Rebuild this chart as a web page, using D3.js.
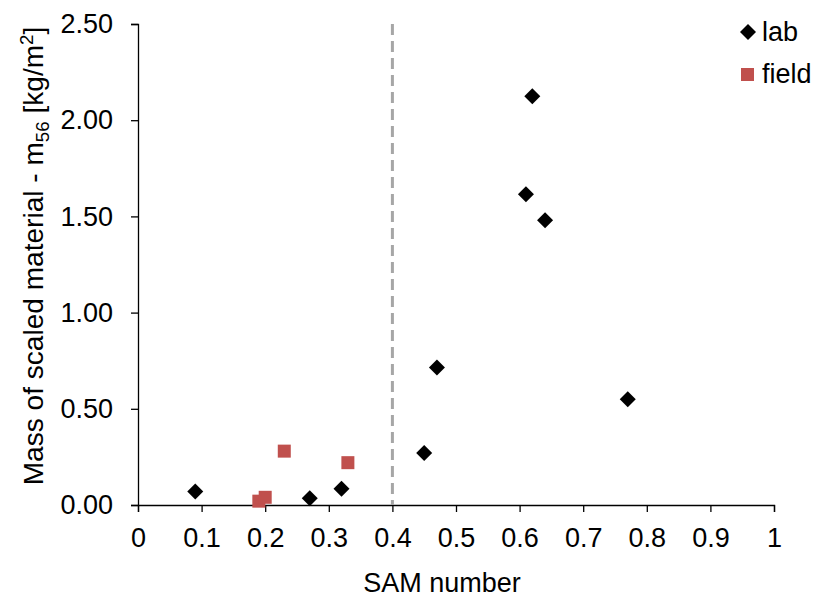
<!DOCTYPE html>
<html><head><meta charset="utf-8">
<script src="https://cdn.jsdelivr.net/npm/d3@7"></script>
<style>body{margin:0;background:#fff}svg{display:block}text{font-family:"Liberation Sans",Arial,sans-serif}</style>
</head><body>
<svg id="c" width="825" height="600"></svg>
<script>
const labX = [0.09, 0.27, 0.32, 0.45, 0.47, 0.61, 0.62, 0.64, 0.77];
const labY = [0.07, 0.035, 0.085, 0.27, 0.715, 1.615, 2.125, 1.48, 0.55];
const fieldX = [0.19, 0.20, 0.23, 0.33];
const fieldY = [0.02, 0.04, 0.28, 0.22];
const xTicks = [0,0.1,0.2,0.3,0.4,0.5,0.6,0.7,0.8,0.9,1];
const yTicks = [0,0.5,1,1.5,2,2.5];
const threshold = 0.4;

const FS = 27;
const svg = d3.select("#c");
const x = d3.scaleLinear().domain([0,1]).range([138,774]);
const y = d3.scaleLinear().domain([0,2.5]).range([505,24]);

const xa = svg.append("g").attr("transform","translate(0,505)")
  .call(d3.axisBottom(x).tickValues(xTicks).tickFormat(d=>d===0?"0":d===1?"1":d3.format(".1f")(d)).tickSizeOuter(0).tickSize(7).tickPadding(16));
const ya = svg.append("g").attr("transform","translate(138,0)")
  .call(d3.axisLeft(y).tickValues(yTicks).tickFormat(d3.format(".2f")).tickSizeOuter(0).tickSize(7).tickPadding(18));
[xa,ya].forEach(a=>{
  a.attr("font-size",FS).attr("font-family","'Liberation Sans',Arial,sans-serif");
  a.selectAll("path,line").attr("stroke","#000").attr("stroke-width",1.3);
  a.selectAll("text").attr("fill","#000");
});

svg.append("line").attr("x1",x(threshold)).attr("x2",x(threshold)).attr("y1",y(2.5)).attr("y2",y(0))
  .attr("stroke","#a6a6a6").attr("stroke-width",3).attr("stroke-dasharray","11,6");

const diamond = d3.symbol().type(d3.symbolSquare).size(128);
svg.append("g").selectAll("path").data(labX.map((v,i)=>[v,labY[i]])).join("path")
  .attr("d",diamond).attr("transform",d=>`translate(${x(d[0])},${y(d[1])}) rotate(45)`).attr("fill","#000");
svg.append("g").selectAll("rect").data(fieldX.map((v,i)=>[v,fieldY[i]])).join("rect")
  .attr("x",d=>x(d[0])-6.5).attr("y",d=>y(d[1])-6.5).attr("width",13).attr("height",13).attr("fill","#c0504d");

// legend
svg.append("path").attr("d",diamond).attr("transform","translate(748,32) rotate(45)").attr("fill","#000");
svg.append("text").attr("x",762).attr("y",41).attr("font-size",FS).text("lab");
svg.append("rect").attr("x",741).attr("y",68).attr("width",13).attr("height",13).attr("fill","#c0504d");
svg.append("text").attr("x",762).attr("y",83).attr("font-size",FS).text("field");

// titles
svg.append("text").attr("x",442).attr("y",592).attr("text-anchor","middle").attr("font-size",FS).text("SAM number");
const yt = svg.append("text").attr("transform","translate(43,256) rotate(-90) scale(1.04,1)").attr("text-anchor","middle").attr("font-size",FS);
yt.append("tspan").text("Mass of scaled material - m");
yt.append("tspan").attr("font-size",18).attr("dy",6).text("56");
yt.append("tspan").attr("dy",-6).text(" [kg/m");
yt.append("tspan").attr("font-size",18).attr("dy",-10).text("2");
yt.append("tspan").attr("dy",10).text("]");
</script>
</body></html>
